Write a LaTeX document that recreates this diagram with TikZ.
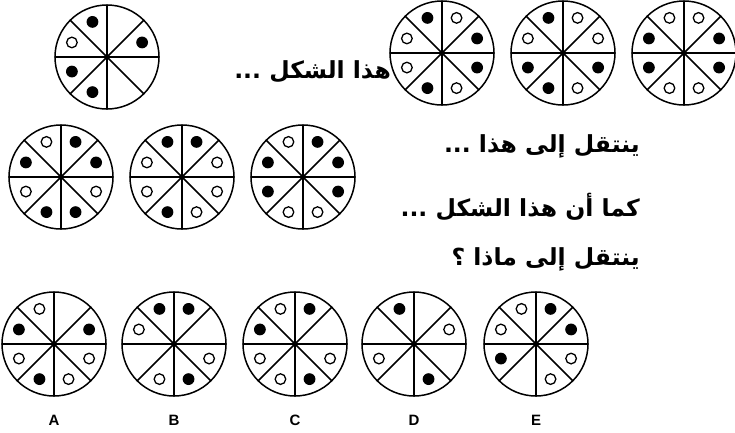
\documentclass[tikz,border=0pt]{standalone}
\usepackage{fontspec}
\setmainfont{Liberation Sans}
\newfontfamily\arabicfont[Script=Arabic]{DejaVu Sans}
\TeXXeTstate=1
\newcommand\mywheel[3]{%
 \begin{scope}[shift={(#1,#2)}]
  \draw[wheelline] (0pt,0pt) circle (52pt);
  \foreach \a in {0,45,...,315} \draw[wheelline] (0pt,0pt) -- (\a:52pt);
  \fill (0pt,0pt) circle (2.8pt);
  \foreach \s [count=\i from 0] in {#3} {
    \pgfmathsetmacro\ang{112.5-45*\i}
    \ifnum\s=1 \fill (\ang:38pt) circle (5.9pt); \fi
    \ifnum\s=2 \draw[odot] (\ang:38pt) circle (5.3pt); \fi
  }
 \end{scope}}
\begin{document}
\begin{tikzpicture}[x=1pt,y=-1pt,
  wheelline/.style={line width=1.5pt, line cap=round},
  odot/.style={draw=black, line width=1.3pt, fill=white},
  arab/.style={anchor=east, inner sep=0pt, font=\arabicfont\bfseries\fontsize{23.5}{23.5}\selectfont},
  lab/.style={inner sep=0pt, font=\bfseries\fontsize{15}{15}\selectfont}]
\useasboundingbox (0,0) rectangle (735,432);
% top row
\mywheel{107}{57}{1,0,1,0,0,1,1,2}
\mywheel{442}{53}{1,2,1,1,2,1,2,2}
\mywheel{563}{53}{1,2,2,1,2,1,1,2}
\mywheel{684}{53}{2,2,1,1,2,2,1,1}
% middle row
\mywheel{61}{177}{2,1,1,2,1,1,2,1}
\mywheel{182}{177}{1,1,2,2,2,1,2,2}
\mywheel{303}{177}{2,1,1,1,2,2,1,1}
% answers
\mywheel{54}{344}{2,0,1,2,2,1,2,1}
\mywheel{174}{344}{1,1,0,2,1,2,0,2}
\mywheel{295}{344}{2,1,0,2,1,2,2,1}
\mywheel{414}{344}{1,0,2,0,1,0,2,0}
\mywheel{536}{344}{2,1,1,2,2,0,1,2}
% labels
\node[lab] (la) at (54,420) {A};
\node[lab] (lb) at (174,420) {B};
\node[lab] (lc) at (295,420) {C};
\node[lab] (ld) at (414,420) {D};
\node[lab] (le) at (536,420) {E};
% arabic text
\node[arab] (t1) at (391,72) {\beginR هذا الشكل ...\endR};
\node[arab] (t2) at (640,146) {\beginR ينتقل إلى هذا ...\endR};
\node[arab] (t3) at (640,207) {\beginR كما أن هذا الشكل ...\endR};
\node[arab] (t4) at (640,259) {\beginR ينتقل إلى ماذا ؟\endR};
\end{tikzpicture}
\end{document}
